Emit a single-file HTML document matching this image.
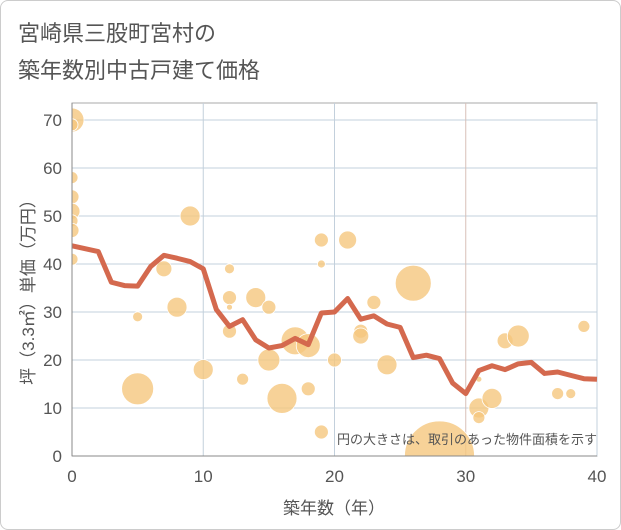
<!DOCTYPE html>
<html><head><meta charset="utf-8"><style>
body{margin:0;background:#fff;}
#wrap{width:619px;height:528px;border:1px solid #ccc;border-radius:8px;position:relative;overflow:hidden;font-family:"Liberation Sans","Noto Sans CJK JP",sans-serif;}
</style></head><body>
<div id="wrap">
<svg id="svg" width="621" height="530" style="position:absolute;left:-1px;top:-1px">
<text x="18" y="41" font-size="22" fill="#555" font-family="Liberation Sans,Noto Sans CJK JP,sans-serif">宮崎県三股町宮村の</text>
<text x="18" y="78" font-size="22" fill="#555" font-family="Liberation Sans,Noto Sans CJK JP,sans-serif">築年数別中古戸建て価格</text>
<g id="grid"></g><g id="bub"></g><g id="ln"></g><g id="ax"></g>
<text x="597" y="444" font-size="13" fill="#555" text-anchor="end" font-family="Liberation Sans,Noto Sans CJK JP,sans-serif">円の大きさは、取引のあった物件面積を示す</text>
<text x="334" y="514" font-size="17" fill="#555" text-anchor="middle" font-family="Liberation Sans,Noto Sans CJK JP,sans-serif">築年数（年）</text>
<text transform="translate(34,288) rotate(-90)" font-size="17" fill="#555" text-anchor="middle" font-family="Liberation Sans,Noto Sans CJK JP,sans-serif">坪（3.3㎡）単価（万円）</text>
</svg></div>
<script>
const xTicks=[0,10,20,30,40];
const yTicks=[0,10,20,30,40,50,60,70];
const lineYears=[0,1,2,3,4,5,6,7,8,9,10,11,12,13,14,15,16,17,18,19,20,21,22,23,24,25,26,27,28,29,30,31,32,33,34,35,36,37,38,39,40];
const lineValues=[43.8,43.2,42.6,36.2,35.5,35.4,39.5,41.8,41.2,40.5,39.0,30.5,27.0,28.4,24.2,22.5,23.0,24.5,23.2,29.8,30.0,32.8,28.5,29.2,27.5,26.8,20.5,21.0,20.3,15.2,13.0,17.8,18.8,18.0,19.2,19.5,17.2,17.5,16.8,16.1,16.0];
const bubX=[0,0,0,0,0,0,0,0,5,5,7,8,9,10,12,12,12,12,13,14,15,15,16,17,18,18,19,19,19,20,21,22,22,23,24,26,28,31,31,31,32,33,34,37,38,39];
const bubY=[70,69,58,54,51,49,47,41,14,29,39,31,50,18,39,33,31,26,16,33,31,20,12,24,23,14,45,40,5,20,45,26,25,32,19,36,0,16,10,8,12,24,25,13,13,27];
const bubSize=[12,6,6,7,8,6,7,6,16,5,8,10,10,10,5,7,3,7,6,10,7,11,15,14,12,7,7,4,7,7,9,7,8,7,10,18,35,3,10,6,10,8,11,6,5,6];
const X0=72,X1=597,Y0=456,Y1=120;
const sx=v=>X0+(v-0)/40*(X1-X0), sy=v=>Y0-v/70*(Y0-Y1);
const NS='http://www.w3.org/2000/svg';
function mk(t,a,p){const e=document.createElementNS(NS,t);for(const k in a)e.setAttribute(k,a[k]);p.appendChild(e);return e;}
const g=document.getElementById('grid'),b=document.getElementById('bub'),l=document.getElementById('ln'),ax=document.getElementById('ax');
mk('rect',{x:X0,y:103,width:X1-X0,height:Y0-103,fill:'none',stroke:'#aaa'},g);
yTicks.forEach(t=>{const e=mk('line',{x1:X0,x2:X1,y1:sy(t),y2:sy(t),stroke:'#c3d0dc'},g);


const tx=mk('text',{x:62,y:sy(t)+6,'font-size':17,fill:'#555','text-anchor':'end'},ax);tx.textContent=t;

});
xTicks.forEach(t=>{const e=mk('line',{x1:sx(t),x2:sx(t),y1:103,y2:Y0,stroke:t==30?'#d8c0b8':'#c3d0dc'},g);


const tx=mk('text',{x:sx(t),y:482,'font-size':17,fill:'#555','text-anchor':'middle'},ax);tx.textContent=t;

});
mk('line',{x1:X0,x2:X0,y1:103,y2:Y0,stroke:'#888'},ax);
mk('line',{x1:X0,x2:X1,y1:Y0,y2:Y0,stroke:'#888'},ax);
const cp=mk('clipPath',{id:'cp'},b);mk('rect',{x:X0,y:103,width:X1-X0,height:Y0-103},cp);
const bg=mk('g',{'clip-path':'url(#cp)'},b);
bubX.forEach((x,i)=>{const c=mk('circle',{cx:sx(x),cy:sy(bubY[i]),r:bubSize[i],fill:'#f5c77e','fill-opacity':0.8,stroke:'#fff','stroke-width':0.8},bg);

});
const pl=mk('polyline',{points:lineYears.map((x,i)=>sx(x)+','+sy(lineValues[i])).join(' '),fill:'none',stroke:'#d4694e','stroke-width':5,'stroke-linejoin':'round'},l);


</script></body></html>
